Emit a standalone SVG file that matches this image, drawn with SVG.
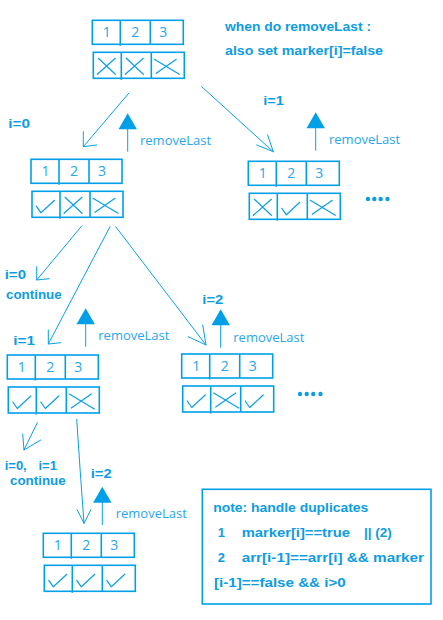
<svg xmlns="http://www.w3.org/2000/svg" xmlns:xlink="http://www.w3.org/1999/xlink" width="443" height="620" viewBox="0 0 443 620">
<style>
.box{fill:none;stroke:#00A0E9;stroke-width:1.6}
.mk{fill:none;stroke:#0A9FE6;stroke-width:1.2;stroke-linecap:round;stroke-linejoin:round}
.ln{fill:none;stroke:#0A9FE6;stroke-width:1;stroke-linecap:round}
.dig{font-family:"Open Sans","Liberation Sans",sans-serif;font-size:14px;fill:#2AA6EC;text-anchor:middle}
.rl{font-family:"Open Sans","Liberation Sans",sans-serif;font-size:13px;fill:#2AA6EC}
.b{font-family:"Liberation Sans","DejaVu Sans",sans-serif;font-size:13px;font-weight:bold;fill:#0E9CE2}
.dot{fill:#0E9CE2}
.tri{fill:#00A0E9;stroke:none}
</style>
<defs>
<g id="nums">
<rect class="box" x="0" y="0" width="91" height="24"/>
<line class="box" x1="28" y1="0" x2="28" y2="25.5"/>
<line class="box" x1="58" y1="0" x2="58" y2="24"/>
<text class="dig" x="14.5" y="16.5">1</text>
<text class="dig" x="43" y="16.5">2</text>
<text class="dig" x="71" y="16.5">3</text>
</g>
<g id="mrow">
<rect class="box" x="1" y="32" width="91" height="26"/>
<line class="box" x1="29" y1="32" x2="29" y2="59.5"/>
<line class="box" x1="59" y1="32" x2="59" y2="58"/>
</g>
<path id="chk" class="mk" d="M4.5,15 L9,21.5 L22.5,9"/>
<path id="crs" class="mk" d="M5,6 L22,22 M22,6 L4,22"/>
<path id="crsw" class="mk" d="M3,7 L28,22 M25,7 L5,21"/>
<g id="up">
<polygon class="tri" points="0,0 -9.2,16 9.2,16"/>
<line class="ln" x1="0" y1="15" x2="0" y2="38" stroke-width="1.4"/>
</g>
</defs>

<g id="connectors">
<path class="ln" d="M128.7,93.3 L83.3,146.7 M83.3,131.7 L83.3,146.7 L96.7,145"/>
<path class="ln" d="M201.7,86.7 L273.3,151.7 M267.7,135 L273.3,151.7 L256.7,145"/>
<path class="ln" d="M81.7,226 L36.7,280 M36.7,266.7 L36.7,280 L49.3,278.7"/>
<path class="ln" d="M110,226.7 L48.3,344 M48.3,330 L48.3,344 L60.7,342.7"/>
<path class="ln" d="M115.7,226.7 L206,345 M202.7,325 L206,345 L188.3,336.7"/>
<path class="ln" d="M37.3,422.7 L24,450 M22.7,434 L24,450 L40.7,440"/>
<path class="ln" d="M76.7,419.3 Q80,470 84,523.3 M77.3,510 L84,523.3 L90.7,510"/>
<use href="#up" x="127.7" y="113.3"/>
<use href="#up" x="315.7" y="112.3"/>
<use href="#up" x="85.7" y="308.3"/>
<use href="#up" x="220.7" y="309.3"/>
<use href="#up" x="102.3" y="486.7"/>
</g>

<g id="node1" transform="translate(92.3,20.3)">
<use href="#nums"/><use href="#mrow"/>
<use href="#crs" x="1" y="32"/><use href="#crs" x="29" y="32"/><use href="#crsw" x="59" y="32"/>
</g>
<g id="node2" transform="translate(31,159.3)">
<use href="#nums"/><use href="#mrow"/>
<use href="#chk" x="1" y="32"/><use href="#crs" x="29" y="32"/><use href="#crsw" x="59" y="32"/>
</g>
<g id="node3" transform="translate(248.3,161.3)">
<use href="#nums"/><use href="#mrow"/>
<use href="#crs" x="1" y="32"/><use href="#chk" x="29" y="32"/><use href="#crsw" x="59" y="32"/>
</g>
<g id="node4" transform="translate(7.3,355)">
<use href="#nums"/><use href="#mrow"/>
<use href="#chk" x="1" y="32"/><use href="#chk" x="29" y="32"/><use href="#crsw" x="59" y="32"/>
</g>
<g id="node5" transform="translate(181.7,354)">
<use href="#nums"/><use href="#mrow"/>
<use href="#chk" x="1" y="32"/><use href="#crsw" x="29" y="32"/><use href="#chk" x="59" y="32"/>
</g>
<g id="node6" transform="translate(43.3,533.3)">
<use href="#nums"/><use href="#mrow"/>
<use href="#chk" x="1" y="32"/><use href="#chk" x="29" y="32"/><use href="#chk" x="59" y="32"/>
</g>

<g id="dots1"><circle class="dot" cx="368" cy="199" r="2.2"/><circle class="dot" cx="374.3" cy="199" r="2.2"/><circle class="dot" cx="380.7" cy="199" r="2.2"/><circle class="dot" cx="387.5" cy="199" r="2.2"/></g>
<g id="dots2"><circle class="dot" cx="300" cy="394" r="2.2"/><circle class="dot" cx="306.7" cy="394" r="2.2"/><circle class="dot" cx="313.3" cy="394" r="2.2"/><circle class="dot" cx="320.5" cy="394" r="2.2"/></g>

<g id="labels">
<text class="b" x="225" y="30.7" textLength="146" lengthAdjust="spacingAndGlyphs">when do removeLast :</text>
<text class="b" x="225" y="55" textLength="158" lengthAdjust="spacingAndGlyphs">also set marker[i]=false</text>
<text class="b" x="8.3" y="128.3" textLength="21.7" lengthAdjust="spacingAndGlyphs">i=0</text>
<text class="b" x="263.3" y="105" textLength="20.7" lengthAdjust="spacingAndGlyphs">i=1</text>
<text class="b" x="4.7" y="279.3" textLength="21.3" lengthAdjust="spacingAndGlyphs">i=0</text>
<text class="b" x="6" y="299.3" textLength="55.7" lengthAdjust="spacingAndGlyphs">continue</text>
<text class="b" x="13.3" y="345" textLength="21.7" lengthAdjust="spacingAndGlyphs">i=1</text>
<text class="b" x="202.3" y="304.3" textLength="21" lengthAdjust="spacingAndGlyphs">i=2</text>
<text class="b" y="470"><tspan x="4.7">i=0,</tspan><tspan x="38.5">i=1</tspan></text>
<text class="b" x="10" y="485" textLength="55.7" lengthAdjust="spacingAndGlyphs">continue</text>
<text class="b" x="90.7" y="478.3" textLength="21" lengthAdjust="spacingAndGlyphs">i=2</text>
<text class="rl" x="140" y="145">removeLast</text>
<text class="rl" x="329" y="144">removeLast</text>
<text class="rl" x="98.3" y="340">removeLast</text>
<text class="rl" x="233.3" y="341.7">removeLast</text>
<text class="rl" x="115.7" y="518.3">removeLast</text>
</g>

<g id="note">
<rect class="box" x="202.3" y="489.3" width="228.7" height="114.7"/>
<text class="b" x="213.3" y="512.3" textLength="155" lengthAdjust="spacingAndGlyphs">note: handle duplicates</text>
<text class="b" x="217.7" y="537.3">1</text>
<text class="b" x="241.7" y="537.3" textLength="108.3" lengthAdjust="spacingAndGlyphs">marker[i]==true</text>
<text class="b" x="364" y="537.3" textLength="27.7" lengthAdjust="spacingAndGlyphs">|| (2)</text>
<text class="b" x="217.7" y="562.3">2</text>
<text class="b" x="241.7" y="562.3" textLength="182.3" lengthAdjust="spacingAndGlyphs">arr[i-1]==arr[i] &amp;&amp; marker</text>
<text class="b" x="214" y="586.7" textLength="131.7" lengthAdjust="spacingAndGlyphs">[i-1]==false &amp;&amp; i&gt;0</text>
</g>
</svg>
